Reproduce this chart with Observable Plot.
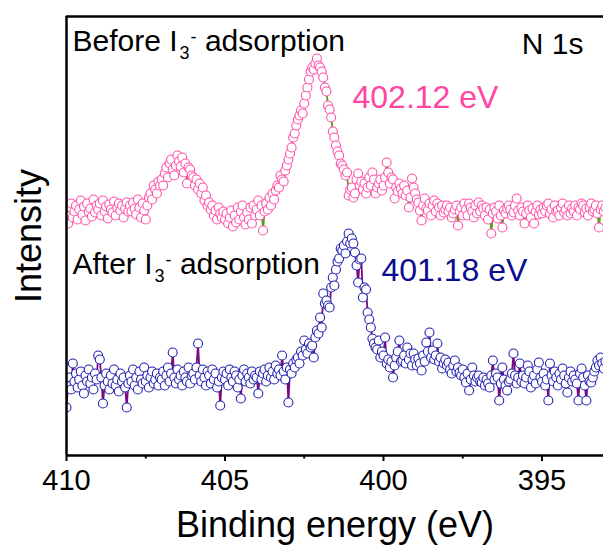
<!DOCTYPE html>
<html>
<head>
<meta charset="utf-8">
<script src="https://cdn.jsdelivr.net/npm/d3@7"></script>
<script src="https://cdn.jsdelivr.net/npm/@observablehq/plot@0.6"></script>
<style>
  body { margin: 0; background: #fff; }
  #chart svg { display: block; }
</style>
</head>
<body>
<div id="chart"></div>
<script>
// Binding-energy grid (eV): spectra recorded from 410 eV downward, 0.05 eV step
const energyStart = 410;
const energyStep = 0.05;

// N 1s intensity (a.u.) before I3- adsorption
const beforeIntensity = [
  240, 232, 248, 252, 238, 244, 250, 236, 246, 255, 241, 249, 235, 252, 244, 247, 239, 256, 243, 250,
  246, 252, 240, 255, 244, 249, 237, 251, 246, 243, 254, 240, 248, 252, 245, 250, 238, 247, 253, 244,
  250, 244, 253, 247, 241, 256, 248, 238, 252, 245, 236, 250, 258, 262, 256, 270, 266, 262, 274, 270,
  276, 270, 282, 288, 278, 292, 296, 286, 280, 290, 300, 294, 289, 298, 283, 292, 272, 288, 286, 280,
  278, 270, 276, 266, 272, 262, 268, 255, 260, 250, 253, 246, 250, 240, 245, 236, 248, 242, 238, 244,
  236, 242, 232, 238, 245, 229, 240, 233, 248, 236, 244, 250, 238, 231, 243, 236, 248, 232, 250, 240,
  246, 255, 240, 250, 225, 244, 252, 246, 258, 250, 262, 256, 265, 270, 268, 280, 276, 274, 285, 290,
  296, 302, 308, 318, 322, 330, 336, 340, 345, 342, 352, 360, 368, 376, 384, 388, 386, 392, 397, 390,
  388, 384, 378, 368, 364, 350, 346, 338, 324, 318, 310, 304, 300, 292, 290, 286, 280, 283, 260, 266,
  268, 258, 262, 276, 282, 270, 274, 266, 272, 262, 268, 278, 270, 283, 276, 262, 268, 272, 276, 265,
  270, 278, 293, 283, 272, 278, 276, 257, 268, 264, 272, 267, 262, 270, 260, 265, 248, 258, 277, 268,
  262, 256, 253, 245, 235, 250, 257, 247, 245, 252, 240, 250, 255, 244, 252, 248, 240, 250, 243, 246,
  250, 244, 248, 238, 242, 246, 250, 230, 244, 248, 240, 252, 246, 240, 252, 248, 244, 238, 250, 242,
  253, 244, 250, 247, 240, 248, 236, 246, 222, 242, 248, 244, 237, 250, 240, 228, 245, 242, 247, 250,
  246, 240, 243, 250, 257, 245, 240, 248, 244, 232, 242, 250, 245, 238, 247, 232, 244, 250, 241, 246,
  242, 248, 244, 250, 252, 242, 246, 238, 250, 244, 245, 240, 248, 252, 243, 246, 240, 250, 242, 247,
  244, 250, 240, 248, 246, 252, 250, 243, 247, 240, 248, 252, 244, 246, 250, 242, 228, 246, 250, 244, 248
];

// N 1s intensity (a.u.) after I3- adsorption
const afterIntensity = [
  48, 70, 78, 66, 92, 74, 82, 68, 76, 84, 70, 62, 80, 74, 86, 72, 78, 66, 82, 76,
  100, 96, 78, 52, 70, 82, 74, 66, 80, 72, 86, 70, 76, 64, 82, 74, 78, 68, 48, 72,
  80, 74, 86, 70, 78, 66, 84, 76, 72, 88, 74, 80, 68, 78, 84, 72, 76, 82, 70, 78,
  76, 84, 70, 80, 88, 74, 82, 103, 78, 72, 86, 76, 80, 70, 84, 78, 74, 88, 72, 80,
  82, 76, 88, 112, 80, 74, 86, 78, 70, 84, 80, 72, 86, 76, 82, 68, 74, 50, 78, 84,
  76, 82, 70, 86, 78, 74, 84, 80, 68, 76, 57, 80, 86, 74, 82, 78, 72, 84, 76, 80,
  78, 62, 84, 76, 82, 86, 74, 80, 88, 78, 84, 76, 90, 82, 86, 80, 100, 84, 76, 88,
  53, 86, 82, 92, 88, 96, 98, 92, 104, 100, 115, 106, 102, 112, 108, 110, 98, 118, 125, 122,
  138, 128, 162, 152, 155, 150, 148, 168, 178, 170, 186, 194, 197, 207, 205, 210, 202, 214, 222, 212,
  217, 212, 203, 190, 173, 196, 197, 158, 168, 166, 143, 136, 128, 117, 112, 108, 106, 115, 98, 104,
  100, 118, 92, 96, 88, 94, 78, 90, 98, 104, 115, 94, 95, 100, 92, 108, 96, 102, 90, 102,
  96, 90, 97, 92, 85, 100, 94, 113, 104, 123, 98, 105, 96, 100, 112, 94, 98, 87, 92, 96,
  90, 93, 86, 82, 90, 95, 84, 88, 83, 80, 86, 78, 73, 82, 65, 76, 88, 80, 74, 78,
  80, 74, 73, 78, 70, 76, 72, 68, 80, 95, 76, 82, 78, 55, 72, 88, 76, 70, 65, 74,
  76, 82, 102, 80, 72, 78, 92, 74, 80, 72, 78, 90, 84, 68, 76, 80, 72, 86, 93, 78,
  74, 82, 70, 76, 55, 92, 80, 74, 84, 78, 70, 82, 76, 87, 80, 72, 63, 78, 84, 74,
  80, 76, 72, 55, 82, 87, 78, 70, 55, 80, 74, 73, 78, 84, 88, 95, 90, 98, 92, 87, 94
];

const xDomain = [410, 393.06];
const yDomain = [0, 439];
const xTicks = [410, 405, 400, 395];
const xMinorTicks = [407.5, 402.5, 397.5];

const xLabel = "Binding energy (eV)";
const yLabel = "Intensity";
const beforeLabel = "Before I3- adsorption";
const afterLabel = "After I3- adsorption";
const regionLabel = "N 1s";
const beforePeakLabel = "402.12 eV";
const afterPeakLabel = "401.18 eV";

const pink = "#ff4fa8";
const pinkText = "#ff45a2";
const green = "#5a9e1a";
const blue = "#2222b0";
const navyText = "#0c0c90";
const purple = "#7a0a80";

const toRows = arr => arr.map((v, i) => ({E: +(energyStart - i * energyStep).toFixed(2), I: v}));
const before = toRows(beforeIntensity);
const after = toRows(afterIntensity);

const font = "'Liberation Sans', Arial, Helvetica, sans-serif";

const chart = Plot.plot({
  width: 603,
  height: 550,
  marginLeft: 66,
  marginRight: 0,
  marginTop: 16,
  marginBottom: 95,
  style: {fontFamily: font, background: "#fff", color: "#000", overflow: "visible"},
  x: {domain: xDomain, label: null},
  y: {domain: yDomain, axis: null},
  marks: [
    Plot.line(before, {x: "E", y: "I", stroke: green, strokeWidth: 1.8, clip: true}),
    Plot.dot(before, {x: "E", y: "I", r: 4.5, stroke: pink, fill: "#fff", strokeWidth: 1.1, clip: true}),
    Plot.line(after, {x: "E", y: "I", stroke: purple, strokeWidth: 1.8, clip: true}),
    Plot.dot(after, {x: "E", y: "I", r: 4.5, stroke: blue, fill: "#fff", strokeWidth: 1.1, clip: true}),
    Plot.ruleX([xDomain[0]], {stroke: "#000", strokeWidth: 2.5}),
    Plot.ruleY([yDomain[0]], {stroke: "#000", strokeWidth: 2.5}),
    Plot.ruleY([yDomain[1]], {stroke: "#000", strokeWidth: 2.5}),
    Plot.axisX(xTicks, {tickSize: 6, tickPadding: 8, fontSize: 29, strokeWidth: 2, label: null, tickFormat: d => String(d), fill: "#000"}),
    Plot.axisX(xMinorTicks, {tickSize: 3.5, tickPadding: 0, strokeWidth: 2, label: null, tickFormat: () => ""}),
    Plot.text([xLabel], {frameAnchor: "bottom", dy: 81, lineAnchor: "bottom", fontSize: 36, fill: "#000"}),
    Plot.text([yLabel], {frameAnchor: "left", rotate: -90, dx: -26, lineAnchor: "bottom", textAnchor: "middle", fontSize: 36, fill: "#000"}),
    Plot.text([beforeLabel], {frameAnchor: "top-left", textAnchor: "start", lineAnchor: "bottom", dx: 6, dy: 34, fontSize: 30, fill: "#000"}),
    Plot.text([afterLabel], {frameAnchor: "top-left", textAnchor: "start", lineAnchor: "bottom", dx: 6, dy: 257, fontSize: 30, fill: "#000"}),
    Plot.text([regionLabel], {frameAnchor: "top-right", textAnchor: "end", lineAnchor: "bottom", dx: -20, dy: 37, fontSize: 30, fill: "#000"}),
    Plot.text([beforePeakLabel], {frameAnchor: "top-left", textAnchor: "start", lineAnchor: "bottom", dx: 286, dy: 91, fontSize: 32, fill: pinkText}),
    Plot.text([afterPeakLabel], {frameAnchor: "top-left", textAnchor: "start", lineAnchor: "bottom", dx: 315, dy: 264, fontSize: 32, fill: navyText})
  ]
});

// Render I3- with subscript 3 and superscript minus
const NS = "http://www.w3.org/2000/svg";
chart.querySelectorAll("text").forEach(t => {
  const s = t.textContent;
  const m = s.match(/^(.*I)3- (adsorption)$/);
  if (!m) return;
  while (t.firstChild) t.removeChild(t.firstChild);
  const parts = [
    {txt: m[1]},
    {txt: "3", size: 18, dx: 2, dy: 8},
    {txt: "-", size: 18, dx: 1, dy: -16},
    {txt: " " + m[2], dy: 8}
  ];
  parts.forEach(p => {
    const ts = document.createElementNS(NS, "tspan");
    ts.textContent = p.txt;
    if (p.size) ts.setAttribute("font-size", p.size);
    if (p.dx) ts.setAttribute("dx", p.dx);
    if (p.dy) ts.setAttribute("dy", p.dy);
    t.appendChild(ts);
  });
});

document.getElementById("chart").appendChild(chart);
</script>
</body>
</html>
